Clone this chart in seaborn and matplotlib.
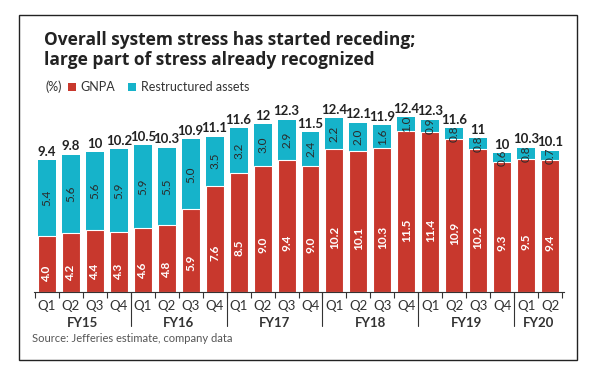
import matplotlib
matplotlib.use("Agg")
import matplotlib.pyplot as plt
import seaborn as sns
import numpy as np
import pandas as pd
from matplotlib.patches import Rectangle

# ---- data ----
quarters = ["Q1", "Q2", "Q3", "Q4"] * 5 + ["Q1", "Q2"]
years = ["FY15", "FY16", "FY17", "FY18", "FY19", "FY20"]
gnpa = [4.0, 4.2, 4.4, 4.3, 4.6, 4.8, 5.9, 7.6, 8.5, 9.0, 9.4, 9.0,
        10.2, 10.1, 10.3, 11.5, 11.4, 10.9, 10.2, 9.3, 9.5, 9.4]
restructured = [5.4, 5.6, 5.6, 5.9, 5.9, 5.5, 5.0, 3.5, 3.2, 3.0, 2.9, 2.4,
                2.2, 2.0, 1.6, 1.0, 0.9, 0.8, 0.8, 0.6, 0.8, 0.7]
totals = ["9.4", "9.8", "10", "10.2", "10.5", "10.3", "10.9", "11.1", "11.6", "12", "12.3", "11.5",
          "12.4", "12.1", "11.9", "12.4", "12.3", "11.6", "11", "10", "10.3", "10.1"]

RED = "#C8382D"
CYAN = "#16B3CA"
DARK = "#222222"

sns.set_theme(style="white")
plt.rcParams['font.family'] = ['Lato', 'DejaVu Sans']

W, H = 593, 367
fig = plt.figure(figsize=(W / 100, H / 100), dpi=100)
ax = fig.add_axes([34 / W, (H - 292) / H, 530 / W, 182 / H])

n = len(gnpa)
df = pd.DataFrame({"key": [str(i) for i in range(n)], "gnpa": gnpa, "restr": restructured})
df["stack"] = df["gnpa"] + df["restr"]

sns.barplot(data=df, x="key", y="stack", color=CYAN, saturation=1, width=0.75,
            edgecolor="none", ax=ax)
sns.barplot(data=df, x="key", y="gnpa", color=RED, saturation=1, width=0.75,
            edgecolor="white", linewidth=0.8, ax=ax)

ax.set_xlim(-0.54, 21.58)
ax.set_ylim(0, 13)
ax.set_xlabel("")
ax.set_ylabel("")
ax.set_yticks([])
for s in ["top", "left", "right"]:
    ax.spines[s].set_visible(False)
ax.spines["bottom"].set_color("#333333")
ax.spines["bottom"].set_linewidth(0.8)

ax.set_xticks(range(n))
ax.set_xticklabels(quarters, fontsize=9.5, color="#333333")
ax.set_xticks(np.arange(-0.5, n, 1.0), minor=True)
ax.tick_params(axis="x", which="major", length=0, pad=5.5)
ax.tick_params(axis="x", which="minor", bottom=True, length=4, width=0.8, color="#333333")

# year labels and separators
year_centers = [1.5, 5.5, 9.5, 13.5, 17.5, 20.5]
for yc, yl in zip(year_centers, years):
    ax.text(yc, -31 / 14, yl, ha="center", va="center", fontsize=9.5,
            fontweight="bold", color="#333333", clip_on=False)
for sx in [3.5, 7.5, 11.5, 15.5, 19.5]:
    ax.plot([sx, sx], [0, -34 / 14], color="#333333", lw=0.8, clip_on=False)

# value labels
for i in range(n):
    g = gnpa[i]
    r = restructured[i]
    ax.text(i, 0.42 * g - 0.4, f"{g:.1f}", rotation=90, ha="center", va="center",
            fontsize=8.5, fontweight="bold", color="white")
    ax.text(i, g + r / 2, f"{r:.1f}", rotation=90, ha="center", va="center",
            fontsize=8.5, color="#2a2a2a")
    ax.text(i, g + r + 0.32, totals[i], ha="center", va="baseline",
            fontsize=9.5, fontweight="bold", color=DARK)

# title
title_font = ['Open Sans', 'DejaVu Sans']
fig.text(44 / W, 1 - 40 / H, "Overall system stress has started receding;",
         fontsize=12.5, fontweight="bold", color=DARK, va="center", family=title_font)
fig.text(44 / W, 1 - 60 / H, "large part of stress already recognized",
         fontsize=12.5, fontweight="bold", color=DARK, va="center", family=title_font)

# legend
ly = 1 - 87 / H
fig.text(45 / W, ly, "(%)", fontsize=9, color="#333333", va="center")
fig.patches.append(Rectangle((68 / W, 1 - 91 / H), 8 / W, 8 / H, transform=fig.transFigure,
                             facecolor=RED, edgecolor="none"))
fig.text(80 / W, ly, "GNPA", fontsize=9, color="#333333", va="center")
fig.patches.append(Rectangle((128 / W, 1 - 91 / H), 8 / W, 8 / H, transform=fig.transFigure,
                             facecolor=CYAN, edgecolor="none"))
fig.text(141 / W, ly, "Restructured assets", fontsize=9, color="#333333", va="center")

# source
fig.text(32 / W, 1 - 339 / H, "Source: Jefferies estimate, company data",
         fontsize=8, color="#555555", va="center")

# frame
fig.patches.append(Rectangle((19 / W, (H - 360) / H), 558 / W, 345 / H, transform=fig.transFigure,
                             fill=False, edgecolor="#222222", linewidth=1))

fig.savefig("out.png", dpi=100)
